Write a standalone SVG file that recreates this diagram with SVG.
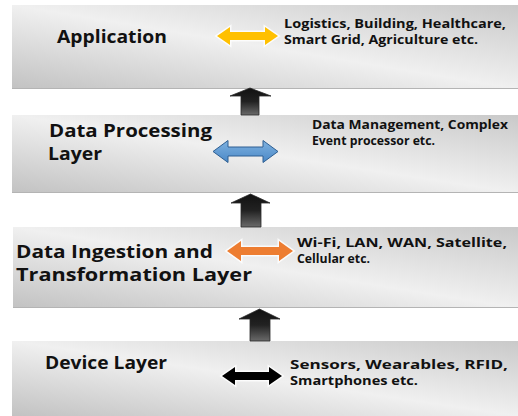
<svg xmlns="http://www.w3.org/2000/svg" width="518" height="416" viewBox="0 0 518 416">
<defs>
<linearGradient id="band" x1="0" y1="1" x2="1" y2="0">
<stop offset="0" stop-color="#c2c2c2"/>
<stop offset="0.5" stop-color="#f0f0f0"/>
<stop offset="1" stop-color="#c9c9c9"/>
</linearGradient>
<linearGradient id="up" x1="0" y1="0" x2="0" y2="1">
<stop offset="0" stop-color="#111"/>
<stop offset="0.5" stop-color="#222"/>
<stop offset="1" stop-color="#6a6a6a"/>
</linearGradient>
<linearGradient id="blueg" x1="0" y1="0" x2="0" y2="1">
<stop offset="0" stop-color="#7fb2e0"/>
<stop offset="1" stop-color="#4a88c7"/>
</linearGradient>
<style>
.band{fill:url(#band)}
.edge{stroke:#b4b4b4;stroke-width:1.2}
.lbl{font-family:"Open Sans","Liberation Sans",sans-serif;font-weight:700;font-size:17px;fill:#111}
.sm{font-family:"Open Sans","Liberation Sans",sans-serif;font-weight:700;font-size:11.5px;fill:#111}
.up{fill:url(#up);stroke:#2a2a2a;stroke-width:0.8}
.glow{fill:none;stroke:#ffffff;stroke-width:3;stroke-opacity:0.8}
</style>
</defs>
<rect width="518" height="416" fill="#ffffff"/>
<g id="application">
<rect class="band" x="12" y="5" width="506" height="84"/>
<line class="edge" x1="12" y1="88.5" x2="518" y2="88.5"/>
<text class="lbl" x="57" y="43" textLength="110" lengthAdjust="spacingAndGlyphs">Application</text>
<text class="sm" x="284" y="28" textLength="222" lengthAdjust="spacingAndGlyphs">Logistics, Building, Healthcare,</text>
<text class="sm" x="284" y="44" textLength="194" lengthAdjust="spacingAndGlyphs">Smart Grid, Agriculture etc.</text>
</g>
<g id="data-processing">
<rect class="band" x="12" y="115" width="506" height="78"/>
<line class="edge" x1="12" y1="192.5" x2="518" y2="192.5"/>
<text class="lbl" x="49" y="137" textLength="163" lengthAdjust="spacingAndGlyphs">Data Processing</text>
<text class="lbl" x="48" y="160" textLength="54" lengthAdjust="spacingAndGlyphs">Layer</text>
<text class="sm" x="312" y="129" textLength="196" lengthAdjust="spacingAndGlyphs">Data Management, Complex</text>
<text class="sm" x="312" y="145" textLength="123" lengthAdjust="spacingAndGlyphs">Event processor etc.</text>
</g>
<g id="data-ingestion">
<rect class="band" x="13" y="227" width="505" height="81"/>
<line class="edge" x1="13" y1="307.5" x2="518" y2="307.5"/>
<text class="lbl" x="16" y="258" textLength="197" lengthAdjust="spacingAndGlyphs">Data Ingestion and</text>
<text class="lbl" x="16" y="281" textLength="236" lengthAdjust="spacingAndGlyphs">Transformation Layer</text>
<text class="sm" x="297" y="247" textLength="210" lengthAdjust="spacingAndGlyphs">Wi-Fi, LAN, WAN, Satellite,</text>
<text class="sm" x="297" y="263" textLength="73" lengthAdjust="spacingAndGlyphs">Cellular etc.</text>
</g>
<g id="device-layer">
<rect class="band" x="12" y="341" width="506" height="75"/>
<text class="lbl" x="45" y="369" textLength="122" lengthAdjust="spacingAndGlyphs">Device Layer</text>
<text class="sm" x="290" y="369" textLength="218" lengthAdjust="spacingAndGlyphs">Sensors, Wearables, RFID,</text>
<text class="sm" x="290" y="385" textLength="128" lengthAdjust="spacingAndGlyphs">Smartphones etc.</text>
</g>
<g id="connectors">
<path class="up" d="M250,88 L271,96 L259,96 L259,115 L241,115 L241,96 L230,96 Z"/>
<path class="up" d="M250.5,194 L270,203 L261,203 L261,227 L241,227 L241,203 L231,203 Z"/>
<path class="up" d="M259.5,309 L280,319 L270,319 L270,341 L250,341 L250,319 L239,319 Z"/>
<path class="glow" d="M217,36 L230,27 L230,32 L265,32 L265,27 L278,36 L265,45 L265,40 L230,40 L230,45 Z"/>
<path fill="#ffc000" d="M217,36 L230,27 L230,32 L265,32 L265,27 L278,36 L265,45 L265,40 L230,40 L230,45 Z"/>
<path fill="url(#blueg)" stroke="#2e5f92" stroke-width="1" d="M213,151.5 L228,140.5 L228,147 L263,147 L263,140.5 L278,151.5 L263,162.5 L263,156 L228,156 L228,162.5 Z"/>
<path class="glow" d="M227,251 L241,241 L241,247 L279,247 L279,241 L293,251 L279,261 L279,255 L241,255 L241,261 Z"/>
<path fill="#ed7d31" d="M227,251 L241,241 L241,247 L279,247 L279,241 L293,251 L279,261 L279,255 L241,255 L241,261 Z"/>
<path class="glow" d="M222,376 L235,367 L235,372 L269,372 L269,367 L282,376 L269,385 L269,380 L235,380 L235,385 Z"/>
<path fill="#000" d="M222,376 L235,367 L235,372 L269,372 L269,367 L282,376 L269,385 L269,380 L235,380 L235,385 Z"/>
</g>
</svg>
